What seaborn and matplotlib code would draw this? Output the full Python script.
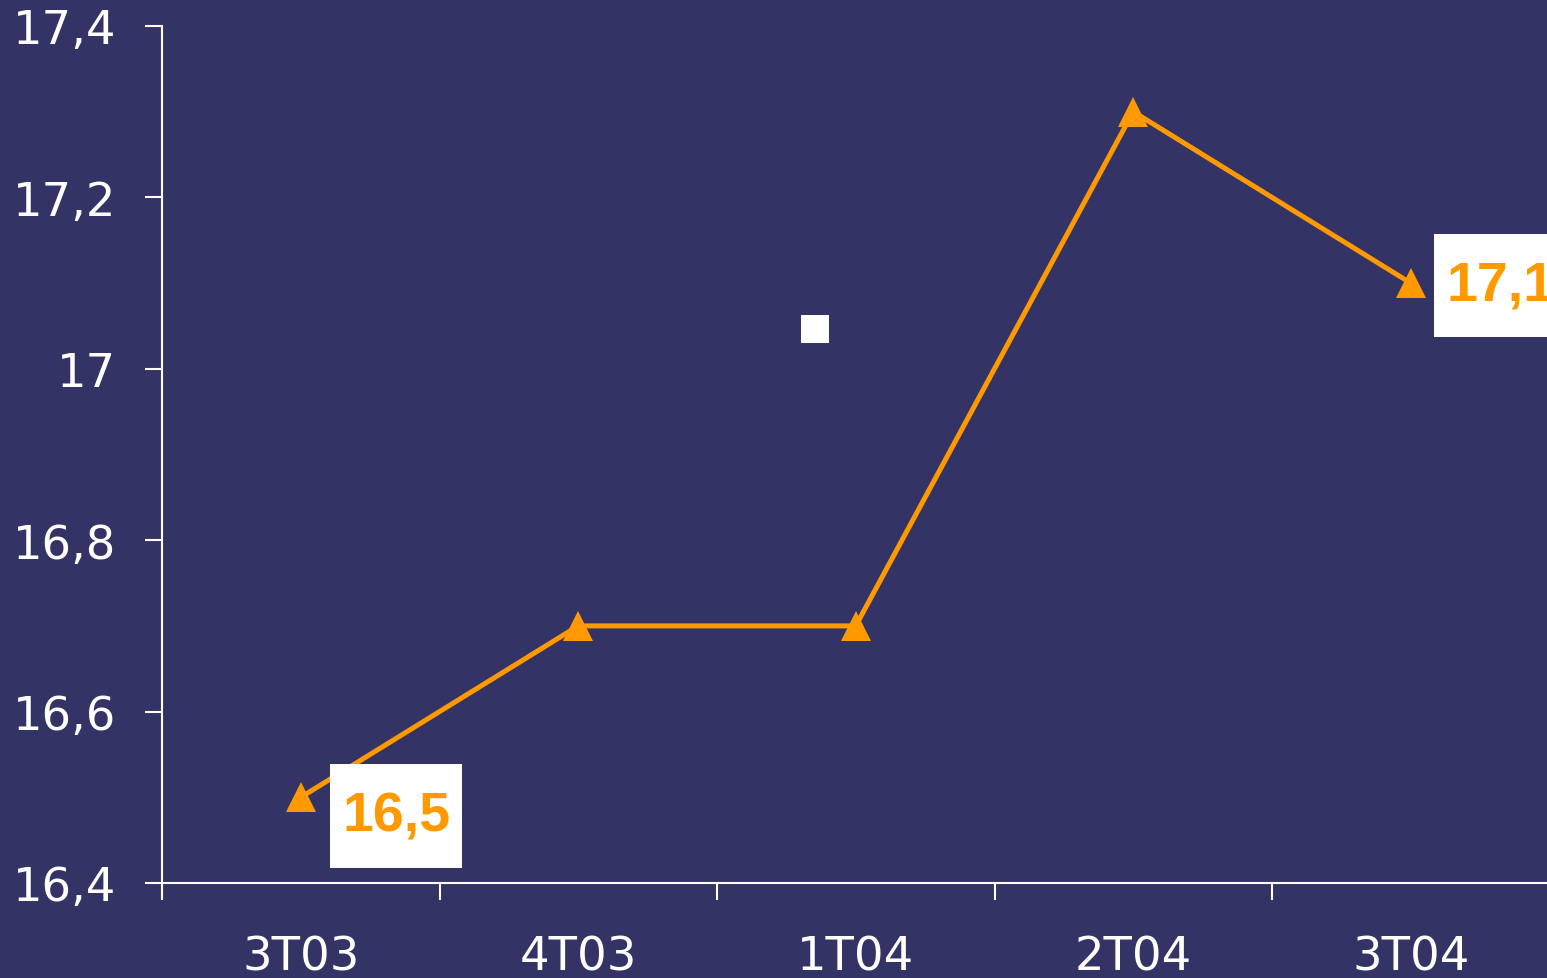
import matplotlib
matplotlib.use("Agg")
import matplotlib.pyplot as plt
import seaborn as sns
import pandas as pd
from matplotlib.path import Path
from matplotlib.ticker import FixedLocator, FuncFormatter

categories = ["3T03", "4T03", "1T04", "2T04", "3T04"]
values = [16.5, 16.7, 16.7, 17.3, 17.1]
labeled_points = {0: "16,5", 4: "17,1"}
y_ticks = [16.4, 16.6, 16.8, 17.0, 17.2, 17.4]
stray_x = [1.853]
stray_y = [17.046]

BG = "#343366"
ORANGE = "#FF9900"

sns.set_theme(style="white")
plt.rcParams["font.family"] = ["DejaVu Sans"]


def label_box(x0, y0, width, height, mutation_size):
    padx = 0.215 * mutation_size
    pady = 0.46 * mutation_size
    x0, y0 = x0 - padx, y0 - pady
    w, h = width + 2 * padx, height + 2 * pady
    return Path([(x0, y0), (x0 + w, y0), (x0 + w, y0 + h), (x0, y0 + h), (x0, y0)],
                closed=True)


fig = plt.figure(figsize=(15.47, 9.79), dpi=100)
fig.patch.set_facecolor(BG)
ax = fig.add_axes([162 / 1547, 1 - 884 / 979, (1549.5 - 162) / 1547, (884 - 27) / 979])
ax.set_facecolor(BG)

df = pd.DataFrame({"x": range(len(categories)), "y": values})
sns.lineplot(data=df, x="x", y="y", ax=ax, color=ORANGE, linewidth=3.6,
             marker="^", markersize=21.5, markeredgecolor=ORANGE,
             markerfacecolor=ORANGE, markeredgewidth=0)
ax.plot(stray_x, stray_y, marker="s", linestyle="none", color="white",
        markersize=20, markeredgewidth=0)

for i, txt in labeled_points.items():
    if i == 0:
        off = (30, -13.5)
    else:
        off = (25.5, -1.5)
    ax.annotate(txt, (i, values[i]), xytext=off, textcoords="offset points",
                ha="left", va="center", color=ORANGE, fontsize=40,
                fontweight="bold", family="Liberation Sans",
                bbox=dict(boxstyle=label_box, fc="white", ec="none"),
                annotation_clip=False)

ax.set_xlim(-0.5, len(categories) - 0.5)
ax.set_ylim(16.4, 17.4)

ax.xaxis.set_major_locator(FixedLocator([-0.5, 0.5, 1.5, 2.5, 3.5]))
ax.xaxis.set_major_formatter(FuncFormatter(lambda v, p: ""))
ax.xaxis.set_minor_locator(FixedLocator(list(range(len(categories)))))
ax.set_xticklabels(categories, minor=True)
ax.tick_params(axis="x", which="major", direction="out", length=12, width=1.5,
               color="white", bottom=True)
ax.tick_params(axis="x", which="minor", length=0, pad=37, labelsize=33.5,
               labelcolor="white", bottom=True)

ax.set_yticks(y_ticks)
ax.yaxis.set_major_formatter(FuncFormatter(
    lambda v, p: (f"{v:.1f}".rstrip("0").rstrip(".")).replace(".", ",")))
ax.tick_params(axis="y", direction="out", length=12, width=1.5, color="white",
               labelsize=33.5, labelcolor="white", pad=21, left=True)

for s in ["top", "right"]:
    ax.spines[s].set_visible(False)
for s in ["left", "bottom"]:
    ax.spines[s].set_color("white")
    ax.spines[s].set_linewidth(1.5)

ax.set_xlabel("")
ax.set_ylabel("")

fig.savefig("out.png", dpi=100, facecolor=BG)
